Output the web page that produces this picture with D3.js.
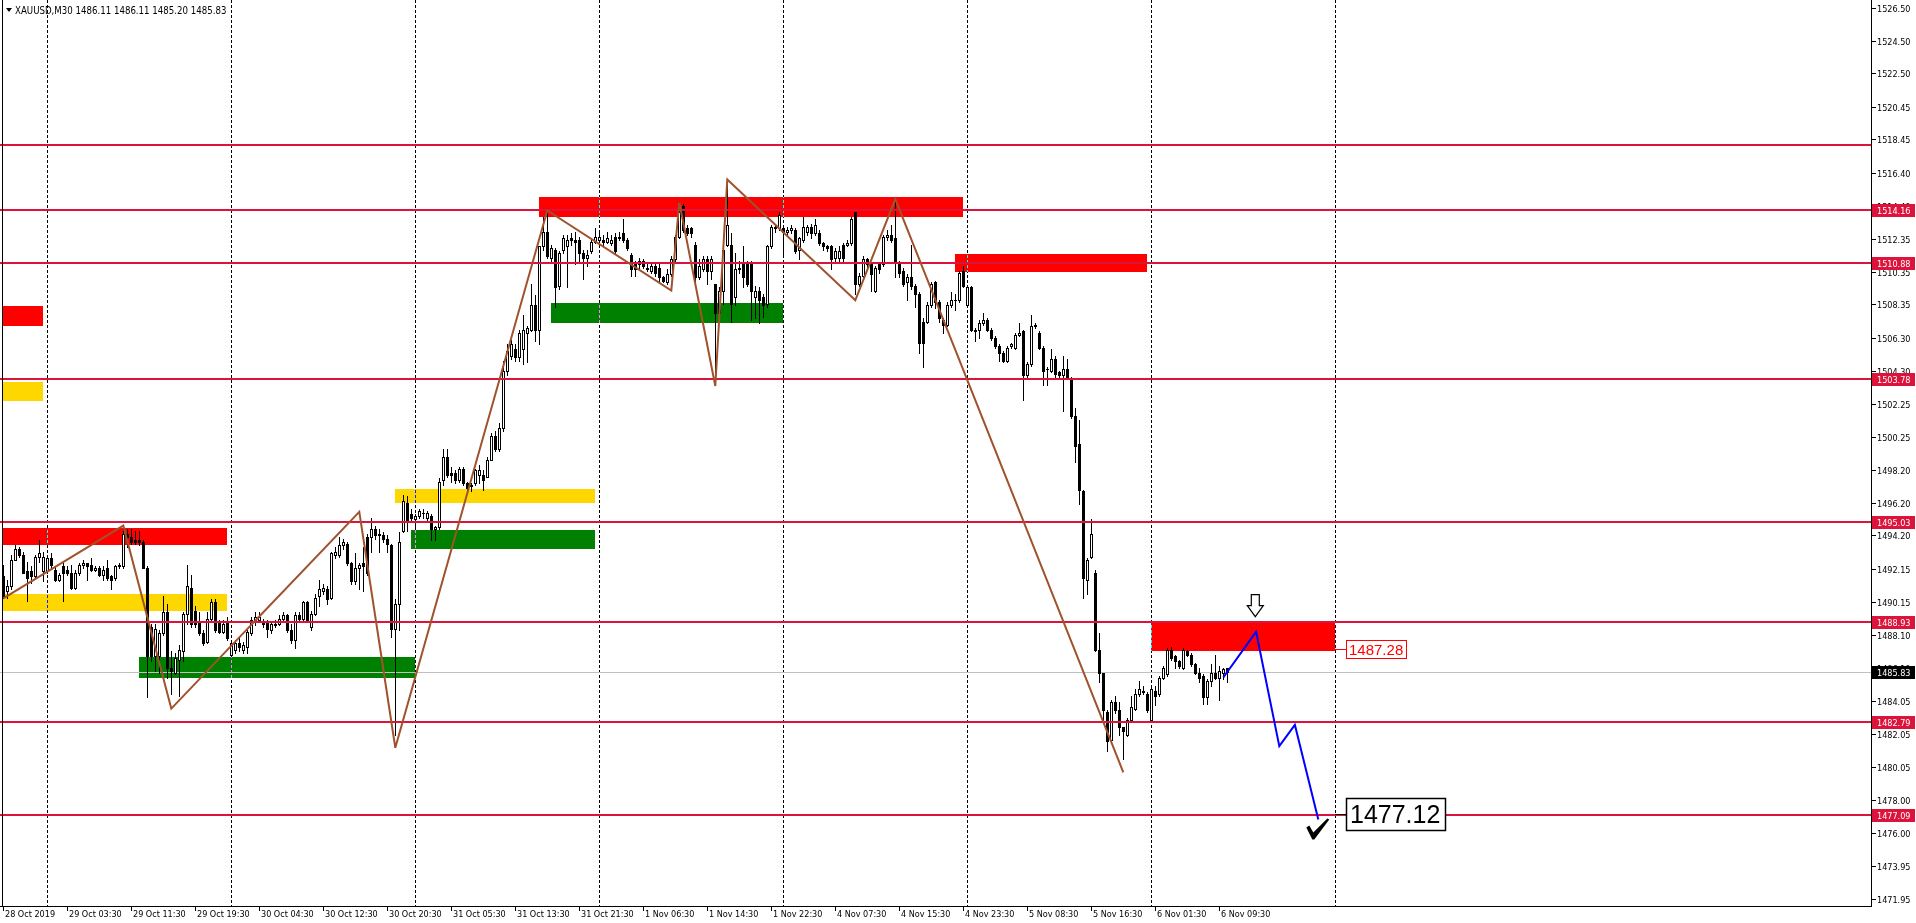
<!DOCTYPE html>
<html><head><meta charset="utf-8">
<script src="https://cdn.jsdelivr.net/npm/d3@7"></script>
<style>
html,body{margin:0;padding:0;background:#fff;overflow:hidden}
svg{display:block;background:#fff}
text{font-family:"DejaVu Sans Condensed","DejaVu Sans",sans-serif}
</style></head><body>
<svg id="chart" width="1916" height="923"></svg>
<script>
// ---------------- DATA ----------------
const symbolTitle = "XAUUSD,M30  1486.11 1486.11 1485.20 1485.83";
const opens = [
1491.7,1490.8,1491.1,1492.7,1493.4,1493.0,1492.0,1492.0,1491.7,1492.9,
1492.0,1492.0,1492.8,1492.1,1491.5,1492.3,1492.1,1491.9,1491.0,1491.9,
1492.4,1492.5,1492.4,1492.1,1492.2,1491.8,1492.2,1491.7,1491.6,1492.3,
1492.3,1494.3,1494.1,1493.9,1493.9,1493.8,1492.2,1488.6,1486.8,1486.8,
1488.2,1489.5,1486.1,1485.8,1486.6,1487.1,1489.4,1491.0,1489.6,1488.9,
1488.2,1487.7,1489.1,1490.1,1488.9,1488.3,1488.9,1486.9,1487.2,1487.6,
1487.2,1487.4,1488.2,1488.9,1489.0,1488.9,1488.9,1488.4,1488.7,1488.8,
1489.1,1489.3,1488.4,1487.8,1489.3,1489.1,1490.1,1488.6,1489.4,1490.5,
1490.8,1490.9,1490.4,1493.0,1493.0,1493.6,1493.7,1492.5,1491.4,1492.2,
1492.5,1494.1,1494.1,1494.6,1494.3,1494.2,1494.0,1493.6,1488.5,1490.0,
1494.5,1496.2,1495.5,1495.2,1495.4,1495.6,1495.3,1495.4,1494.6,1494.7,
1497.6,1499.0,1498.0,1498.0,1497.6,1498.3,1497.4,1497.3,1497.4,1497.9,
1497.9,1497.8,1498.8,1500.3,1499.5,1500.8,1504.3,1505.2,1505.6,1505.1,
1505.6,1506.6,1506.8,1508.3,1506.8,1511.9,1512.8,1511.2,1511.7,1509.5,
1511.7,1511.9,1512.4,1512.3,1512.3,1511.5,1511.2,1511.6,1512.2,1512.3,
1512.3,1512.2,1512.1,1512.5,1512.4,1512.7,1512.3,1511.4,1510.9,1510.8,
1511.0,1510.5,1510.4,1510.7,1510.6,1510.0,1509.7,1510.2,1511.1,1512.5,
1514.4,1513.0,1513.0,1512.0,1510.0,1510.5,1511.1,1510.4,1509.6,1507.8,
1509.2,1512.0,1512.0,1508.8,1510.6,1510.8,1510.8,1510.8,1508.8,1509.2,
1508.8,1508.4,1511.9,1513.0,1513.0,1513.0,1512.8,1512.9,1512.9,1511.7,
1512.3,1512.8,1513.1,1512.7,1512.7,1512.1,1511.9,1511.9,1511.2,1511.2,
1512.0,1512.0,1512.1,1514.0,1509.6,1510.1,1511.1,1510.8,1509.2,1510.8,
1510.8,1512.5,1512.6,1512.4,1510.9,1510.4,1509.7,1510.0,1509.5,1509.0,
1507.3,1507.3,1508.3,1509.7,1508.5,1507.4,1507.1,1508.3,1508.6,1508.6,
1510.4,1508.3,1509.4,1506.8,1506.8,1507.2,1507.4,1506.8,1506.3,1505.8,
1505.4,1504.9,1505.8,1505.7,1506.5,1506.7,1504.0,1504.7,1507.0,1506.6,
1505.7,1504.4,1504.3,1505.0,1504.2,1504.0,1504.4,1503.8,1501.5,1499.8,
1496.9,1491.5,1492.9,1491.9,1487.2,1485.8,1483.4,1481.7,1484.0,1483.5,
1482.5,1482.0,1482.9,1483.6,1484.5,1484.6,1484.5,1482.9,1484.7,1484.5,
1485.5,1485.7,1487.2,1486.8,1486.5,1486.1,1487.1,1486.9,1486.3,1485.8,
1485.6,1484.3,1485.3,1485.8,1485.5,1485.8,1486.11];
const highs = [
1492.4,1491.5,1493.0,1493.6,1493.5,1493.2,1492.6,1492.3,1493.0,1493.9,
1493.2,1493.0,1493.1,1492.3,1491.9,1492.6,1492.3,1492.4,1492.1,1492.5,
1492.7,1492.5,1492.8,1492.3,1492.3,1492.3,1492.7,1491.8,1492.4,1492.5,
1494.7,1494.6,1494.6,1494.5,1494.5,1493.9,1492.3,1488.8,1488.8,1488.4,
1490.5,1490.0,1487.1,1487.0,1487.5,1489.5,1492.4,1491.8,1489.9,1489.5,
1488.4,1489.5,1490.3,1490.3,1489.0,1489.0,1489.2,1487.8,1487.8,1487.9,
1487.7,1488.4,1489.2,1489.5,1489.5,1489.1,1489.0,1488.9,1489.0,1489.3,
1489.5,1489.4,1488.8,1489.5,1489.5,1490.2,1490.2,1489.6,1490.6,1491.5,
1491.2,1491.1,1493.2,1493.5,1494.1,1494.0,1493.8,1492.6,1493.1,1492.5,
1493.5,1494.3,1495.3,1494.8,1494.6,1494.4,1494.2,1493.7,1490.3,1494.4,
1496.7,1496.6,1495.8,1495.5,1495.8,1495.8,1495.7,1495.5,1494.8,1497.7,
1499.5,1499.5,1498.4,1498.2,1498.4,1498.4,1497.5,1497.4,1498.3,1498.5,
1498.2,1499.0,1500.5,1500.6,1501.1,1504.9,1505.9,1506.2,1505.9,1506.8,
1507.7,1507.0,1509.6,1508.9,1511.9,1513.7,1514.0,1512.0,1511.8,1511.6,
1512.6,1512.6,1512.7,1512.8,1512.5,1511.7,1511.7,1512.4,1513.0,1512.9,
1512.6,1512.8,1512.6,1512.7,1512.8,1513.6,1512.4,1511.5,1511.0,1511.2,
1511.1,1510.8,1510.9,1510.9,1510.8,1510.1,1510.5,1511.3,1512.6,1514.6,
1514.5,1513.2,1513.1,1512.2,1511.1,1511.3,1511.3,1511.3,1509.6,1509.4,
1511.8,1516.0,1512.7,1511.5,1511.0,1511.9,1511.0,1511.0,1509.5,1509.4,
1509.0,1512.0,1513.2,1513.3,1514.0,1513.1,1513.1,1513.2,1513.0,1512.5,
1513.7,1513.2,1513.3,1513.6,1512.9,1512.2,1512.0,1512.0,1511.8,1511.9,
1512.1,1512.3,1513.7,1514.0,1510.3,1511.3,1511.2,1510.9,1510.7,1510.9,
1512.6,1512.9,1513.2,1514.6,1511.0,1510.6,1510.2,1512.0,1509.6,1509.1,
1507.5,1508.5,1509.7,1509.8,1508.6,1507.5,1508.5,1509.1,1509.0,1510.4,
1510.7,1509.5,1509.5,1506.9,1507.4,1507.8,1507.5,1506.9,1506.4,1505.9,
1505.5,1505.8,1506.0,1506.6,1507.2,1506.8,1504.8,1507.7,1507.2,1506.7,
1505.8,1504.5,1505.6,1505.2,1504.3,1505.2,1505.0,1503.9,1502.0,1501.3,
1497.0,1492.8,1495.2,1492.1,1488.2,1485.8,1483.5,1484.1,1484.4,1484.0,
1482.5,1483.0,1484.4,1484.8,1485.3,1485.0,1484.6,1484.9,1485.0,1485.6,
1486.2,1487.3,1487.4,1486.9,1486.6,1487.3,1487.2,1487.0,1486.4,1486.1,
1485.7,1485.4,1486.3,1486.9,1486.2,1486.1,1486.11];
const lows = [
1490.4,1490.4,1490.9,1492.7,1492.9,1491.9,1490.2,1491.3,1491.6,1492.6,
1491.4,1491.9,1492.2,1491.4,1491.4,1490.2,1491.8,1490.9,1490.9,1491.8,
1492.2,1491.5,1492.0,1492.0,1491.7,1491.5,1491.5,1490.9,1491.5,1492.2,
1492.2,1493.5,1493.7,1493.7,1493.6,1492.2,1484.3,1486.5,1485.9,1485.8,
1488.1,1485.5,1484.5,1485.7,1484.4,1486.5,1488.8,1488.6,1488.6,1488.1,
1487.5,1487.6,1488.9,1488.3,1488.2,1488.2,1487.8,1486.8,1487.0,1487.1,
1487.0,1487.0,1488.1,1488.7,1488.9,1488.6,1488.0,1488.2,1488.6,1488.7,
1489.0,1488.3,1487.6,1487.3,1488.9,1489.0,1488.9,1488.4,1489.3,1489.9,
1490.6,1490.0,1490.3,1492.8,1492.9,1493.4,1492.4,1491.2,1491.2,1490.9,
1490.8,1491.8,1493.2,1494.0,1493.2,1493.8,1493.2,1488.0,1482.0,1488.4,
1494.4,1494.5,1495.0,1494.6,1495.3,1495.3,1495.1,1493.9,1493.9,1494.6,
1497.3,1497.8,1497.5,1497.4,1497.5,1497.3,1496.8,1496.9,1497.3,1497.4,
1497.0,1497.8,1498.8,1499.4,1499.4,1500.6,1504.0,1505.0,1504.9,1504.9,
1504.7,1504.8,1506.7,1506.1,1505.9,1511.7,1511.2,1511.0,1508.2,1509.3,
1511.5,1509.4,1512.0,1510.8,1510.9,1509.9,1510.7,1511.5,1512.1,1512.2,
1512.0,1512.1,1512.0,1511.5,1512.3,1512.2,1511.7,1510.1,1510.1,1510.6,
1510.6,1510.4,1510.3,1510.1,1509.8,1509.7,1509.6,1510.1,1511.0,1512.4,
1512.8,1512.6,1512.5,1509.8,1509.9,1510.4,1509.6,1509.9,1503.7,1507.3,
1508.4,1511.9,1507.3,1508.3,1510.3,1509.4,1509.5,1507.4,1507.5,1507.2,
1507.6,1508.2,1511.8,1512.8,1512.9,1511.3,1512.6,1512.7,1511.5,1511.1,
1512.2,1512.6,1512.4,1512.6,1512.0,1511.7,1511.6,1510.5,1511.0,1511.0,
1511.0,1511.9,1512.0,1509.0,1509.5,1510.0,1510.6,1509.2,1509.1,1510.3,
1510.7,1512.3,1512.2,1510.0,1510.0,1509.5,1508.6,1509.3,1508.2,1505.4,
1504.5,1507.2,1508.2,1508.1,1507.3,1506.6,1507.0,1508.2,1508.0,1508.5,
1509.4,1508.2,1506.7,1506.1,1506.3,1507.1,1506.7,1506.2,1505.7,1504.9,
1504.8,1504.8,1505.7,1505.6,1506.4,1502.5,1503.9,1504.6,1506.9,1505.6,
1503.4,1503.4,1504.2,1503.9,1503.9,1501.8,1503.8,1501.4,1498.7,1496.1,
1490.4,1490.6,1492.8,1487.1,1485.2,1482.7,1481.0,1481.5,1483.3,1482.0,
1480.5,1481.9,1482.8,1483.5,1484.4,1484.5,1483.4,1482.8,1483.8,1484.4,
1485.4,1485.6,1486.6,1486.1,1486.1,1486.0,1486.8,1486.2,1485.7,1485.2,
1483.9,1483.9,1485.0,1485.4,1484.1,1485.4,1485.20];
const closes = [
1490.5,1491.1,1492.7,1493.4,1493.0,1491.9,1491.6,1491.7,1492.9,1493.1,
1492.9,1492.8,1492.4,1491.5,1491.8,1491.9,1491.9,1491.0,1491.9,1492.4,
1492.5,1492.3,1492.1,1492.2,1491.8,1492.1,1491.6,1491.5,1492.3,1492.4,
1494.3,1494.1,1493.8,1493.8,1493.8,1492.2,1486.8,1486.8,1488.5,1488.2,
1489.5,1486.1,1485.9,1486.7,1487.2,1489.4,1491.1,1488.8,1488.8,1488.2,
1487.6,1489.1,1490.1,1488.4,1488.3,1488.8,1487.9,1487.6,1487.6,1487.4,
1487.5,1488.3,1489.0,1489.2,1489.2,1488.8,1488.5,1488.8,1488.8,1489.1,
1489.3,1488.4,1487.8,1489.3,1489.1,1490.1,1489.0,1489.4,1490.4,1490.9,
1491.0,1490.3,1493.1,1493.2,1493.6,1493.8,1492.5,1491.4,1492.2,1492.4,
1492.3,1491.9,1494.6,1494.2,1494.2,1494.0,1493.7,1488.5,1490.0,1493.8,
1496.3,1495.0,1495.3,1495.4,1495.7,1495.6,1495.6,1494.6,1494.7,1497.5,
1499.0,1497.9,1497.9,1497.6,1498.3,1497.4,1497.1,1497.2,1498.2,1498.2,
1497.6,1498.8,1500.3,1499.5,1500.8,1504.3,1505.5,1505.9,1505.1,1506.6,
1506.8,1506.9,1508.3,1506.8,1511.9,1512.8,1511.3,1511.8,1509.4,1511.5,
1512.4,1512.3,1512.3,1512.2,1511.5,1511.2,1511.4,1512.2,1512.5,1512.5,
1512.2,1512.4,1512.3,1511.6,1512.5,1512.3,1511.8,1510.5,1510.5,1511.0,
1510.7,1510.6,1510.7,1510.3,1510.0,1509.8,1510.2,1511.1,1512.5,1514.0,
1512.9,1512.7,1512.7,1510.0,1510.7,1511.1,1510.4,1511.1,1507.8,1509.2,
1511.7,1513.2,1508.4,1510.5,1510.5,1510.0,1509.6,1509.2,1509.2,1508.6,
1508.3,1511.9,1513.1,1513.1,1513.8,1512.8,1512.9,1513.0,1511.6,1512.4,
1513.1,1513.1,1512.7,1513.2,1512.1,1511.9,1511.8,1511.1,1511.6,1511.6,
1511.2,1512.1,1513.6,1509.6,1510.1,1511.1,1510.8,1510.2,1510.6,1510.5,
1512.5,1512.6,1512.3,1510.9,1510.3,1509.6,1510.0,1509.5,1509.0,1506.0,
1506.0,1508.3,1509.6,1508.5,1507.5,1507.1,1508.3,1508.6,1508.6,1510.3,
1509.5,1509.4,1506.8,1506.7,1507.2,1507.4,1506.8,1506.3,1505.8,1505.4,
1504.9,1505.7,1505.9,1506.5,1506.6,1504.0,1504.7,1507.0,1507.1,1505.7,
1504.3,1504.4,1505.0,1504.1,1504.0,1504.4,1503.9,1501.5,1499.7,1497.0,
1491.6,1492.7,1494.3,1487.2,1485.8,1483.5,1481.6,1484.0,1483.5,1482.5,
1482.2,1482.9,1483.7,1484.5,1484.8,1484.7,1483.5,1484.8,1484.4,1485.5,
1486.1,1487.2,1486.7,1486.5,1486.2,1487.2,1486.9,1486.3,1485.8,1485.5,
1484.3,1485.3,1485.8,1485.5,1485.9,1486.0,1485.83];

// time axis: a label every 16 bars starting at bar 0
const dateTickLabels = ["28 Oct 2019","29 Oct 03:30","29 Oct 11:30","29 Oct 19:30","30 Oct 04:30",
 "30 Oct 12:30","30 Oct 20:30","31 Oct 05:30","31 Oct 13:30","31 Oct 21:30","1 Nov 06:30",
 "1 Nov 14:30","1 Nov 22:30","4 Nov 07:30","4 Nov 15:30","4 Nov 23:30","5 Nov 08:30",
 "5 Nov 16:30","6 Nov 01:30","6 Nov 09:30"];
const dateTickBars = dateTickLabels.map((d, k) => k * 16);
const gridBars = [11, 57, 103, 149, 195, 241, 287, 333];
const priceTicks = [1526.50,1524.50,1522.50,1520.45,1518.45,1516.40,1514.40,1512.35,1510.35,1508.35,
 1506.30,1504.30,1502.25,1500.25,1498.20,1496.20,1494.20,1492.15,1490.15,1488.10,1486.10,
 1484.05,1482.05,1480.05,1478.00,1476.00,1473.95,1471.95];

// horizontal levels
const levelPrices = [1518.1, 1514.16, 1510.88, 1503.78, 1495.03, 1488.93, 1482.79, 1477.09];
const levelShowLabel = [false, true, true, true, true, true, true, true];
const bidPrice = 1485.83;

// zones: bar range and price range
const zoneFrom  = [0, 0, 34, 98, 102, 134, 137, 238, 287, 0, 0];
const zoneTo    = [56, 56, 103, 148, 148, 240, 195, 286, 333, 10, 10];
const zoneHigh  = [1494.64, 1490.60, 1486.78, 1497.03, 1494.53, 1514.94, 1508.44, 1511.44, 1488.93, 1508.28, 1503.57];
const zoneLow   = [1493.62, 1489.60, 1485.50, 1496.21, 1493.37, 1513.72, 1507.21, 1510.35, 1487.10, 1507.00, 1502.43];
const zoneKind  = ["supply","pivot","demand","pivot","demand","supply","demand","supply","supply","supply","pivot"];

// zigzag pivots (bar, price)
const zigBars   = [0, 30, 42, 89, 98, 136, 167, 169, 178, 181, 213, 223, 280];
const zigPrices = [1490.35, 1494.8, 1483.6, 1495.65, 1481.2, 1514.1, 1509.2, 1514.6, 1503.35, 1516.0, 1508.6, 1514.8, 1479.7];

// forecast path (bar, price)
const fcBars   = [305, 313.2, 319, 322.9, 328.75];
const fcPrices = [1485.5, 1488.3, 1481.3, 1482.6, 1476.8];

// text labels on the chart
const entryLabel = 1487.28, entryBar = 333;
const targetLabel = 1477.12, targetBar = 333;
const arrowBar = 313, arrowPrice = 1489.9;
const checkBar = 328.5, checkPrice = 1476.2;

// ---------------- DRAW ----------------
const W = 1916, H = 923;
const plotRight = 1871, plotBottom = 906;
const svg = d3.select("#chart");
const x = d3.scaleLinear().domain([0, 100]).range([3.3, 403.3]);
const y = d3.scaleLinear().domain([1471.51, 1526.99]).range([plotBottom, 0]);
const px = v => Math.round(x(v));
const py = v => Math.round(y(v));
const zoneColor = {supply: "#ff0000", demand: "#008000", pivot: "#ffd700"};

const plot = svg.append("g");
plot.append("rect").attr("x",0).attr("y",0).attr("width",plotRight).attr("height",plotBottom).attr("fill","#fff");

// zones
plot.append("g").selectAll("rect").data(zoneFrom.map((f,i)=>i)).join("rect")
  .attr("x", i => px(zoneFrom[i]))
  .attr("width", i => px(zoneTo[i]) - px(zoneFrom[i]))
  .attr("y", i => py(zoneHigh[i]))
  .attr("height", i => py(zoneLow[i]) - py(zoneHigh[i]))
  .attr("fill", i => zoneColor[zoneKind[i]]);

// grid (XOR-like inversion)
plot.append("g").selectAll("line").data(gridBars).join("line")
  .attr("x1", d => px(d)+0.5).attr("x2", d => px(d)+0.5)
  .attr("y1", 0).attr("y2", plotBottom)
  .attr("stroke", "#fff").attr("stroke-dasharray","3,2")
  .style("mix-blend-mode","difference");

// bid line
plot.append("line").attr("x1",0).attr("x2",plotRight)
  .attr("y1", py(bidPrice)+0.5).attr("y2", py(bidPrice)+0.5)
  .attr("stroke","#c0c0c0").attr("stroke-width",1);

// candles
const bars = d3.range(opens.length).map(i => ({i, o: opens[i], h: highs[i], l: lows[i], c: closes[i]}));
const gc = plot.append("g");
gc.selectAll("line.w").data(bars).join("line").attr("class","w")
  .attr("x1", d => px(d.i)+0.5).attr("x2", d => px(d.i)+0.5)
  .attr("y1", d => py(d.h)).attr("y2", d => py(d.l)+1)
  .attr("stroke","#000").attr("stroke-width",1);
gc.selectAll("rect.b").data(bars.filter(d => Math.abs(py(d.o)-py(d.c)) >= 1)).join("rect").attr("class","b")
  .attr("x", d => px(d.i)-0.5).attr("width", 2)
  .attr("y", d => Math.min(py(d.o),py(d.c))+0.5)
  .attr("height", d => Math.abs(py(d.o)-py(d.c)))
  .attr("fill", d => d.c >= d.o ? "#fff" : "#000")
  .attr("stroke","#000").attr("stroke-width",1);
gc.selectAll("line.d").data(bars.filter(d => Math.abs(py(d.o)-py(d.c)) < 1)).join("line").attr("class","d")
  .attr("x1", d => px(d.i)-1).attr("x2", d => px(d.i)+2)
  .attr("y1", d => py(d.c)+0.5).attr("y2", d => py(d.c)+0.5)
  .attr("stroke","#000");

// levels
plot.append("g").selectAll("line").data(levelPrices).join("line")
  .attr("x1",0).attr("x2",plotRight)
  .attr("y1", d => py(d)).attr("y2", d => py(d))
  .attr("stroke","#dc143c").attr("stroke-width",2);

// zigzag
plot.append("path")
  .datum(zigBars.map((b,i)=>[b, zigPrices[i]]))
  .attr("d", d3.line().x(d => x(d[0])).y(d => y(d[1])))
  .attr("fill","none").attr("stroke","#a0522d").attr("stroke-width",2);

// forecast
plot.append("path")
  .datum(fcBars.map((b,i)=>[b, fcPrices[i]]))
  .attr("d", d3.line().x(d => x(d[0])).y(d => y(d[1])))
  .attr("fill","none").attr("stroke","#0000ff").attr("stroke-width",2);

// entry label
{
  const ex = px(entryBar), ey = py(entryLabel) + 1;
  plot.append("line").attr("x1",ex).attr("x2",ex+11).attr("y1",ey+0.5).attr("y2",ey+0.5).attr("stroke","#ff0000");
  plot.append("rect").attr("x",ex+11.5).attr("y",ey-8.5).attr("width",60).attr("height",18)
    .attr("fill","#fff").attr("stroke","#ff0000");
  plot.append("text").attr("x",ex+14).attr("y",ey+5.5).text(entryLabel.toFixed(2))
    .attr("fill","#ff0000").style("font-family","'Liberation Sans',Arial,sans-serif").style("font-size","15px");
}
// target label
{
  const tx = px(targetBar), ty = py(targetLabel);
  plot.append("line").attr("x1",tx).attr("x2",tx+11).attr("y1",ty+0.5).attr("y2",ty+0.5).attr("stroke","#000");
  plot.append("rect").attr("x",tx+11.5).attr("y",ty-15.5).attr("width",99).attr("height",32)
    .attr("fill","#fff").attr("stroke","#000").attr("stroke-width",1.5);
  plot.append("text").attr("x",tx+15).attr("y",ty+9).text(targetLabel.toFixed(2))
    .attr("fill","#000").style("font-family","'Liberation Sans',Arial,sans-serif").style("font-size","25px");
}
// hollow down arrow
{
  const ax = x(arrowBar), ay = y(arrowPrice);
  const pts = [[-4,-11],[4,-11],[4,0],[8,0],[0,11],[-8,0],[-4,0]];
  plot.append("path").attr("d", "M" + pts.map(p => (ax+p[0])+","+(ay+p[1])).join("L") + "Z")
    .attr("fill","#fff").attr("stroke","#000").attr("stroke-width",1.2);
}
// check mark
{
  const cx = x(checkBar), cy = y(checkPrice);
  const pts = [[-11,-2],[-8,-4],[-4,3],[10,-11],[12,-10],[-3,10],[-5,10]];
  plot.append("path").attr("d", "M" + pts.map(p => (cx+p[0])+","+(cy+p[1])).join("L") + "Z")
    .attr("fill","#000");
}

// frame
svg.append("line").attr("x1",2.5).attr("x2",2.5).attr("y1",0).attr("y2",plotBottom).attr("stroke","#000");
svg.append("line").attr("x1",plotRight+0.5).attr("x2",plotRight+0.5).attr("y1",0).attr("y2",plotBottom+1).attr("stroke","#000");
svg.append("line").attr("x1",0).attr("x2",plotRight+1).attr("y1",plotBottom+0.5).attr("y2",plotBottom+0.5).attr("stroke","#000");

// price axis
const ya = svg.append("g").style("font-size","9px");
ya.selectAll("line").data(priceTicks).join("line")
  .attr("x1", plotRight+1).attr("x2", plotRight+5)
  .attr("y1", d => py(d)+0.5).attr("y2", d => py(d)+0.5).attr("stroke","#000");
ya.selectAll("text").data(priceTicks).join("text")
  .attr("x", plotRight+6).attr("y", d => py(d)+0.5).attr("dy","0.35em")
  .text(d => d.toFixed(2)).attr("fill","#000");

// level price tags
const tags = levelPrices.map((p,i)=>({p, show: levelShowLabel[i], bg:"#dc143c"})).filter(d=>d.show);
tags.push({p: bidPrice, show: true, bg: "#000"});
const tg = svg.append("g").style("font-size","9px");
tg.selectAll("rect").data(tags).join("rect")
  .attr("x", plotRight+1).attr("width", W-plotRight-2)
  .attr("y", d => py(d.p)-6).attr("height", 13).attr("fill", d => d.bg);
tg.selectAll("text").data(tags).join("text")
  .attr("x", plotRight+6).attr("y", d => py(d.p)+0.5).attr("dy","0.35em")
  .text(d => d.p.toFixed(2)).attr("fill","#fff");

// time axis
const xa = svg.append("g").style("font-size","9px");
xa.selectAll("line").data(dateTickBars).join("line")
  .attr("x1", d => px(d)+0.5).attr("x2", d => px(d)+0.5)
  .attr("y1", plotBottom+1).attr("y2", plotBottom+5).attr("stroke","#000");
xa.selectAll("text").data(dateTickBars).join("text")
  .attr("x", d => px(d)+2).attr("y", plotBottom+8).attr("dy","0.35em")
  .text((d,i) => dateTickLabels[i]).attr("fill","#000");

// title
svg.append("path").attr("d","M6,8L12,8L9,12Z").attr("fill","#000");
svg.append("text").attr("x",15).attr("y",10.5).attr("dy","0.35em").style("font-size","9.6px").text(symbolTitle);
</script>
</body></html>
